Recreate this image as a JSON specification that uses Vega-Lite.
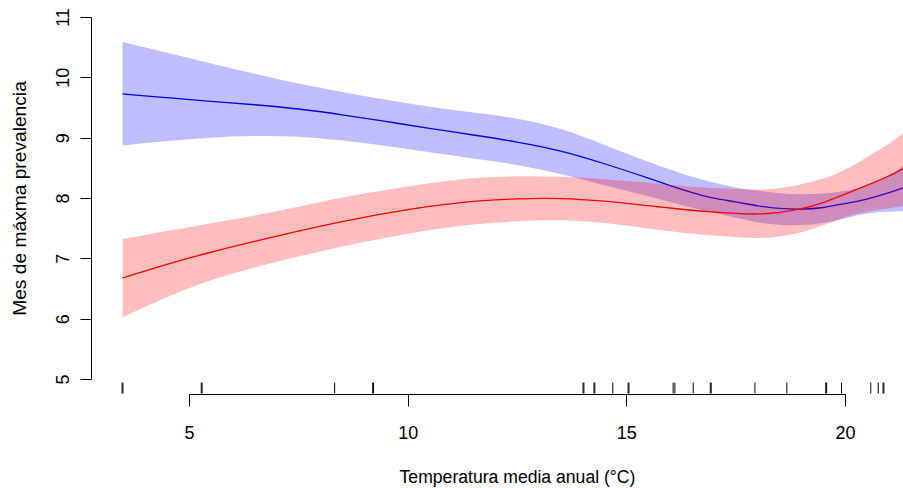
{
  "$schema": "https://vega.github.io/schema/vega-lite/v6.json",
  "autosize": {"type": "none"},
  "width": 656,
  "height": 362,
  "padding": {"left": 189, "top": 17, "right": 58, "bottom": 109},
  "background": "white",
  "config": {
    "view": {"stroke": null},
    "font": "Liberation Sans",
    "axis": {"grid": false, "domainColor": "#000000", "tickColor": "#000000", "labelColor": "#000000", "titleColor": "#000000", "labelFont": "Liberation Sans", "titleFont": "Liberation Sans", "titleFontWeight": "normal", "domainWidth": 1, "tickWidth": 1}
  },
  "datasets": {
    "curvas": [
      {"grupo": "azul", "temp": 3.48, "fit": 9.725, "lo": 8.871, "hi": 10.585},
      {"grupo": "azul", "temp": 4.5, "fit": 9.662, "lo": 8.946, "hi": 10.406},
      {"grupo": "azul", "temp": 5.5, "fit": 9.601, "lo": 9.004, "hi": 10.231},
      {"grupo": "azul", "temp": 6.5, "fit": 9.548, "lo": 9.032, "hi": 10.057},
      {"grupo": "azul", "temp": 7.5, "fit": 9.48, "lo": 9.028, "hi": 9.891},
      {"grupo": "azul", "temp": 8.5, "fit": 9.382, "lo": 8.954, "hi": 9.759},
      {"grupo": "azul", "temp": 9.5, "fit": 9.269, "lo": 8.863, "hi": 9.626},
      {"grupo": "azul", "temp": 10.5, "fit": 9.153, "lo": 8.755, "hi": 9.51},
      {"grupo": "azul", "temp": 11.5, "fit": 9.045, "lo": 8.655, "hi": 9.418},
      {"grupo": "azul", "temp": 12.5, "fit": 8.932, "lo": 8.556, "hi": 9.327},
      {"grupo": "azul", "temp": 13.5, "fit": 8.79, "lo": 8.406, "hi": 9.161},
      {"grupo": "azul", "temp": 14.5, "fit": 8.571, "lo": 8.207, "hi": 8.879},
      {"grupo": "azul", "temp": 15.5, "fit": 8.332, "lo": 8.033, "hi": 8.597},
      {"grupo": "azul", "temp": 16.5, "fit": 8.083, "lo": 7.834, "hi": 8.348},
      {"grupo": "azul", "temp": 17.0, "fit": 7.992, "lo": 7.759, "hi": 8.257},
      {"grupo": "azul", "temp": 17.5, "fit": 7.938, "lo": 7.668, "hi": 8.166},
      {"grupo": "azul", "temp": 18.0, "fit": 7.867, "lo": 7.593, "hi": 8.124},
      {"grupo": "azul", "temp": 18.5, "fit": 7.821, "lo": 7.552, "hi": 8.074},
      {"grupo": "azul", "temp": 19.0, "fit": 7.809, "lo": 7.544, "hi": 8.058},
      {"grupo": "azul", "temp": 19.5, "fit": 7.834, "lo": 7.577, "hi": 8.066},
      {"grupo": "azul", "temp": 20.0, "fit": 7.909, "lo": 7.66, "hi": 8.116},
      {"grupo": "azul", "temp": 20.5, "fit": 7.975, "lo": 7.754, "hi": 8.186},
      {"grupo": "azul", "temp": 21.0, "fit": 8.083, "lo": 7.776, "hi": 8.34},
      {"grupo": "azul", "temp": 21.33, "fit": 8.169, "lo": 7.781, "hi": 8.539},
      {"grupo": "rojo", "temp": 3.48, "fit": 6.674, "lo": 6.025, "hi": 7.32},
      {"grupo": "rojo", "temp": 4.5, "fit": 6.908, "lo": 6.366, "hi": 7.452},
      {"grupo": "rojo", "temp": 5.5, "fit": 7.104, "lo": 6.648, "hi": 7.585},
      {"grupo": "rojo", "temp": 6.5, "fit": 7.281, "lo": 6.855, "hi": 7.709},
      {"grupo": "rojo", "temp": 7.5, "fit": 7.452, "lo": 7.029, "hi": 7.85},
      {"grupo": "rojo", "temp": 8.5, "fit": 7.61, "lo": 7.203, "hi": 8.016},
      {"grupo": "rojo", "temp": 9.5, "fit": 7.751, "lo": 7.344, "hi": 8.133},
      {"grupo": "rojo", "temp": 10.5, "fit": 7.864, "lo": 7.477, "hi": 8.249},
      {"grupo": "rojo", "temp": 11.5, "fit": 7.953, "lo": 7.568, "hi": 8.34},
      {"grupo": "rojo", "temp": 12.5, "fit": 7.992, "lo": 7.618, "hi": 8.365},
      {"grupo": "rojo", "temp": 13.5, "fit": 8.0, "lo": 7.643, "hi": 8.357},
      {"grupo": "rojo", "temp": 14.5, "fit": 7.953, "lo": 7.593, "hi": 8.315},
      {"grupo": "rojo", "temp": 15.5, "fit": 7.872, "lo": 7.494, "hi": 8.252},
      {"grupo": "rojo", "temp": 16.5, "fit": 7.792, "lo": 7.403, "hi": 8.182},
      {"grupo": "rojo", "temp": 17.0, "fit": 7.768, "lo": 7.378, "hi": 8.166},
      {"grupo": "rojo", "temp": 17.5, "fit": 7.743, "lo": 7.353, "hi": 8.149},
      {"grupo": "rojo", "temp": 18.0, "fit": 7.729, "lo": 7.328, "hi": 8.133},
      {"grupo": "rojo", "temp": 18.5, "fit": 7.754, "lo": 7.353, "hi": 8.157},
      {"grupo": "rojo", "temp": 19.0, "fit": 7.817, "lo": 7.427, "hi": 8.224},
      {"grupo": "rojo", "temp": 19.5, "fit": 7.917, "lo": 7.544, "hi": 8.315},
      {"grupo": "rojo", "temp": 20.0, "fit": 8.066, "lo": 7.693, "hi": 8.456},
      {"grupo": "rojo", "temp": 20.5, "fit": 8.207, "lo": 7.781, "hi": 8.68},
      {"grupo": "rojo", "temp": 21.0, "fit": 8.357, "lo": 7.826, "hi": 8.888},
      {"grupo": "rojo", "temp": 21.33, "fit": 8.489, "lo": 7.864, "hi": 9.082}
    ],
    "rug": [
      {"temp": 3.47}, {"temp": 3.49}, {"temp": 5.28}, {"temp": 5.3}, {"temp": 8.33},
      {"temp": 9.2}, {"temp": 9.22}, {"temp": 14.01}, {"temp": 14.03}, {"temp": 14.26},
      {"temp": 14.28}, {"temp": 14.69}, {"temp": 15.04}, {"temp": 15.06}, {"temp": 16.07},
      {"temp": 16.11}, {"temp": 16.53}, {"temp": 16.92}, {"temp": 16.94}, {"temp": 17.94},
      {"temp": 18.67}, {"temp": 19.56}, {"temp": 19.58}, {"temp": 19.92}, {"temp": 20.59},
      {"temp": 20.76}, {"temp": 20.87}, {"temp": 20.89}
    ]
  },
  "layer": [
    {
      "data": {"name": "curvas"},
      "transform": [{"filter": "datum.grupo === 'azul'"}],
      "mark": {"type": "area", "color": "#0000ff", "opacity": 0.26, "interpolate": "basis"},
      "encoding": {
        "x": {"field": "temp", "type": "quantitative", "scale": {"domain": [5, 20], "nice": false, "zero": false},
          "axis": {"values": [5, 10, 15, 20], "format": "d", "offset": 15, "tickSize": 12, "labelFontSize": 18, "labelPadding": 32, "labelBaseline": "alphabetic", "labelFlush": false, "labelOverlap": false,
            "title": "Temperatura media anual (°C)", "titleFontSize": 17.6, "titleBaseline": "alphabetic", "titleY": 88}},
        "y": {"field": "lo", "type": "quantitative", "scale": {"domain": [5, 11], "nice": false, "zero": false},
          "axis": {"values": [5, 6, 7, 8, 9, 10, 11], "format": "d", "offset": 98, "tickSize": 11, "labelFontSize": 18, "labelAngle": -90, "labelAlign": "center", "labelBaseline": "alphabetic", "labelPadding": 12, "labelFlush": false, "labelOverlap": false,
            "title": "Mes de máxma prevalencia", "titleFontSize": 19.2, "titleAngle": -90, "titleAlign": "center", "titleBaseline": "alphabetic", "titleX": -66}},
        "y2": {"field": "hi"}
      }
    },
    {
      "data": {"name": "curvas"},
      "transform": [{"filter": "datum.grupo === 'azul'"}],
      "mark": {"type": "line", "color": "#0000ff", "strokeWidth": 1.3, "interpolate": "basis"},
      "encoding": {
        "x": {"field": "temp", "type": "quantitative"},
        "y": {"field": "fit", "type": "quantitative"}
      }
    },
    {
      "data": {"name": "curvas"},
      "transform": [{"filter": "datum.grupo === 'rojo'"}],
      "mark": {"type": "area", "color": "#ff0000", "opacity": 0.26, "interpolate": "basis"},
      "encoding": {
        "x": {"field": "temp", "type": "quantitative"},
        "y": {"field": "lo", "type": "quantitative"},
        "y2": {"field": "hi"}
      }
    },
    {
      "data": {"name": "curvas"},
      "transform": [{"filter": "datum.grupo === 'rojo'"}],
      "mark": {"type": "line", "color": "#ff0000", "strokeWidth": 1.3, "interpolate": "basis"},
      "encoding": {
        "x": {"field": "temp", "type": "quantitative"},
        "y": {"field": "fit", "type": "quantitative"}
      }
    },
    {
      "data": {"name": "rug"},
      "mark": {"type": "rule", "color": "#000000", "strokeWidth": 1},
      "encoding": {
        "x": {"field": "temp", "type": "quantitative"},
        "y": {"datum": 4.76},
        "y2": {"datum": 4.94}
      }
    }
  ]
}
